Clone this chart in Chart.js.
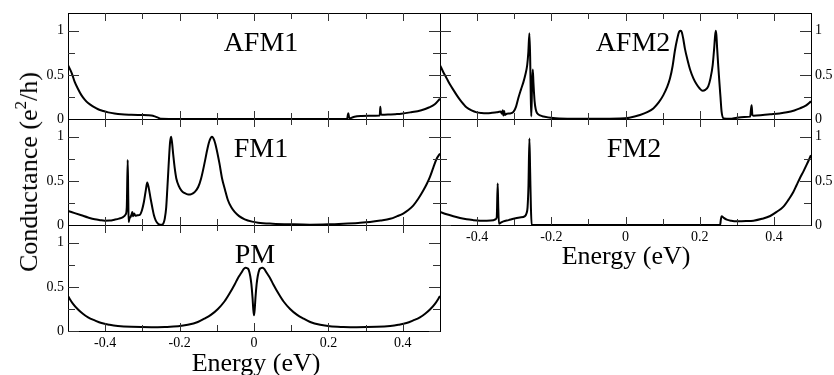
<!DOCTYPE html>
<html>
<head>
<meta charset="utf-8">
<script src="https://cdn.jsdelivr.net/npm/chart.js@4.4.1/dist/chart.umd.min.js"></script>
<style>
  body { margin: 0; background: #fff; }
  #wrap { position: relative; width: 834px; height: 375px; overflow: hidden; font-family: "Liberation Serif", "DejaVu Serif", serif; }
  #wrap canvas { position: absolute; left: 0; top: 0; }
  .lbl { position: absolute; transform: translate(-50%, -50%); line-height: 1; white-space: nowrap; color: #000; }
  .panel { font-size: 28px; }
  .axis { font-size: 26px; }
  .ytitle { transform: translate(-50%, -50%) rotate(-90deg); }
  .ytitle sup { font-size: 17px; vertical-align: 0; position: relative; top: -11px; }
</style>
</head>
<body>
<div id="wrap">
  <canvas id="c1" width="834" height="375"></canvas>
  <canvas id="c2" width="834" height="375"></canvas>
  <canvas id="c3" width="834" height="375"></canvas>
  <canvas id="c4" width="834" height="375"></canvas>
  <canvas id="c5" width="834" height="375"></canvas>
  <div class="lbl panel" style="left:261px;top:42px">AFM1</div>
  <div class="lbl panel" style="left:633px;top:42px">AFM2</div>
  <div class="lbl panel" style="left:261px;top:148px">FM1</div>
  <div class="lbl panel" style="left:634px;top:148px">FM2</div>
  <div class="lbl panel" style="left:255px;top:254px">PM</div>
  <div class="lbl axis" style="left:256px;top:363px">Energy (eV)</div>
  <div class="lbl axis" style="left:626px;top:256px">Energy (eV)</div>
  <div class="lbl axis ytitle" style="left:29px;top:172px">Conductance (e<sup>2</sup>/h)</div>
</div>
<script>
'use strict'
// tick values
const xMajor = [-0.4, -0.2, 0, 0.2, 0.4]
const xMinor = [-0.3, -0.1, 0.1, 0.3]
const xLabels = ['-0.4', '-0.2', '0', '0.2', '0.4']
const yMajor = [0, 0.5, 1]
const yMinor = [0.25, 0.75]
const yLabels = ['0', '0.5', '1']

// AFM1
const afm1E = [-0.5, -0.49, -0.482, -0.473, -0.464, -0.455, -0.446, -0.432, -0.419, -0.405, -0.392, -0.375, -0.357, -0.33, -0.303, -0.285, -0.276, -0.267, -0.258, -0.249, -0.2, -0.1, 0, 0.1, 0.2, 0.25, 0.2535, 0.2555, 0.2575, 0.26, 0.27, 0.289, 0.31, 0.338, 0.3396, 0.341, 0.343, 0.36, 0.38, 0.396, 0.42, 0.45, 0.47, 0.486, 0.5]
const afm1G = [0.61, 0.52, 0.42, 0.34, 0.27, 0.22, 0.18, 0.14, 0.11, 0.09, 0.075, 0.062, 0.053, 0.048, 0.045, 0.043, 0.04, 0.03, 0.015, 0.002, 0, 0, 0, 0, 0, 0, 0.065, 0.02, 0.005, 0.01, 0.025, 0.035, 0.038, 0.04, 0.14, 0.06, 0.048, 0.05, 0.055, 0.06, 0.075, 0.1, 0.13, 0.166, 0.23]

// AFM2
const afm2E = [-0.5, -0.491, -0.482, -0.473, -0.464, -0.455, -0.446, -0.437, -0.428, -0.415, -0.401, -0.388, -0.374, -0.36, -0.347, -0.337, -0.333, -0.331, -0.329, -0.327, -0.325, -0.32, -0.311, -0.302, -0.295, -0.289, -0.282, -0.275, -0.27, -0.265, -0.262, -0.259, -0.257, -0.2555, -0.254, -0.252, -0.25, -0.248, -0.245, -0.242, -0.238, -0.23, -0.221, -0.195, -0.15, -0.1, -0.05, -0.015, 0.01, 0.039, 0.06, 0.075, 0.09, 0.102, 0.112, 0.12, 0.127, 0.133, 0.139, 0.145, 0.149, 0.152, 0.156, 0.16, 0.167, 0.174, 0.183, 0.192, 0.2, 0.208, 0.215, 0.223, 0.229, 0.235, 0.239, 0.243, 0.245, 0.247, 0.25, 0.253, 0.256, 0.259, 0.265, 0.282, 0.3, 0.32, 0.336, 0.338, 0.34, 0.342, 0.345, 0.37, 0.39, 0.415, 0.435, 0.455, 0.47, 0.487, 0.5]
const afm2G = [0.61, 0.53, 0.46, 0.39, 0.33, 0.27, 0.216, 0.17, 0.13, 0.097, 0.075, 0.068, 0.066, 0.07, 0.076, 0.085, 0.06, 0.1, 0.04, 0.09, 0.045, 0.06, 0.062, 0.08, 0.14, 0.235, 0.33, 0.42, 0.5, 0.61, 0.75, 0.97, 0.7, 0.3, 0.03, 0.35, 0.56, 0.4, 0.2, 0.11, 0.064, 0.04, 0.028, 0.01, 0.003, 0.002, 0.003, 0.005, 0.015, 0.045, 0.08, 0.12, 0.19, 0.27, 0.36, 0.46, 0.6, 0.77, 0.9, 0.99, 1.0, 0.98, 0.9, 0.8, 0.67, 0.56, 0.46, 0.39, 0.345, 0.32, 0.33, 0.37, 0.46, 0.61, 0.8, 1.0, 0.95, 0.8, 0.6, 0.42, 0.25, 0.083, 0.005, 0.002, 0.015, 0.022, 0.027, 0.1, 0.157, 0.045, 0.038, 0.045, 0.053, 0.063, 0.076, 0.097, 0.12, 0.155, 0.2]

// FM1
const fm1E = [-0.5, -0.482, -0.464, -0.446, -0.428, -0.414, -0.401, -0.388, -0.375, -0.363, -0.352, -0.345, -0.342, -0.3395, -0.338, -0.337, -0.335, -0.332, -0.329, -0.327, -0.325, -0.322, -0.319, -0.313, -0.307, -0.301, -0.296, -0.291, -0.287, -0.283, -0.278, -0.273, -0.269, -0.264, -0.258, -0.252, -0.247, -0.243, -0.24, -0.236, -0.233, -0.2305, -0.228, -0.2255, -0.223, -0.2205, -0.217, -0.213, -0.209, -0.202, -0.195, -0.186, -0.177, -0.168, -0.159, -0.15, -0.142, -0.133, -0.125, -0.119, -0.113, -0.107, -0.101, -0.093, -0.086, -0.078, -0.07, -0.061, -0.052, -0.04, -0.025, -0.005, 0.011, 0.05, 0.1, 0.15, 0.2, 0.24, 0.28, 0.312, 0.34, 0.366, 0.385, 0.401, 0.415, 0.428, 0.442, 0.455, 0.465, 0.473, 0.482, 0.491, 0.5]
const fm1G = [0.16, 0.135, 0.11, 0.085, 0.064, 0.055, 0.049, 0.05, 0.06, 0.072, 0.09, 0.12, 0.2, 0.735, 0.3, 0.034, 0.07, 0.09, 0.12, 0.148, 0.1, 0.13, 0.105, 0.11, 0.115, 0.17, 0.26, 0.39, 0.48, 0.42, 0.3, 0.19, 0.11, 0.05, 0.015, 0.003, 0.004, 0.025, 0.07, 0.2, 0.41, 0.6, 0.79, 0.94, 1.0, 0.94, 0.79, 0.64, 0.53, 0.44, 0.39, 0.36, 0.345, 0.35, 0.375, 0.43, 0.53, 0.7, 0.867, 0.96, 1.0, 0.96, 0.867, 0.7, 0.53, 0.4, 0.28, 0.2, 0.148, 0.1, 0.064, 0.038, 0.026, 0.015, 0.008, 0.004, 0.008, 0.015, 0.024, 0.034, 0.05, 0.07, 0.1, 0.13, 0.17, 0.22, 0.3, 0.39, 0.47, 0.545, 0.65, 0.75, 0.81]

// FM2
const fm2E = [-0.5, -0.482, -0.464, -0.446, -0.428, -0.41, -0.392, -0.374, -0.356, -0.35, -0.347, -0.3445, -0.343, -0.341, -0.335, -0.329, -0.315, -0.302, -0.285, -0.271, -0.267, -0.264, -0.2615, -0.259, -0.257, -0.255, -0.253, -0.2, -0.1, 0, 0.1, 0.2, 0.255, 0.257, 0.259, 0.265, 0.273, 0.285, 0.3, 0.325, 0.345, 0.368, 0.39, 0.408, 0.425, 0.44, 0.452, 0.461, 0.47, 0.48, 0.488, 0.5]
const fm2G = [0.148, 0.122, 0.1, 0.08, 0.064, 0.055, 0.049, 0.048, 0.053, 0.065, 0.09, 0.47, 0.2, 0.015, 0.03, 0.041, 0.055, 0.07, 0.085, 0.1, 0.13, 0.2, 0.45, 0.98, 0.6, 0.2, 0.002, 0, 0, 0, 0, 0, 0, 0.06, 0.1, 0.08, 0.06, 0.048, 0.042, 0.044, 0.049, 0.07, 0.102, 0.15, 0.205, 0.29, 0.37, 0.45, 0.53, 0.61, 0.68, 0.79]

// PM
const pmE = [-0.5, -0.487, -0.473, -0.46, -0.446, -0.428, -0.41, -0.388, -0.366, -0.33, -0.276, -0.24, -0.204, -0.178, -0.151, -0.133, -0.115, -0.097, -0.079, -0.065, -0.052, -0.043, -0.034, -0.028, -0.023, -0.018, -0.014, -0.01, -0.007, -0.004, -0.002, 0, 0.002, 0.004, 0.007, 0.01, 0.014, 0.018, 0.023, 0.028, 0.034, 0.043, 0.052, 0.065, 0.079, 0.097, 0.115, 0.133, 0.151, 0.178, 0.204, 0.24, 0.276, 0.33, 0.366, 0.388, 0.41, 0.428, 0.446, 0.46, 0.473, 0.487, 0.5]
const pmG = [0.395, 0.31, 0.243, 0.195, 0.155, 0.12, 0.09, 0.07, 0.057, 0.047, 0.042, 0.045, 0.053, 0.07, 0.102, 0.14, 0.186, 0.25, 0.337, 0.43, 0.527, 0.6, 0.659, 0.7, 0.716, 0.71, 0.69, 0.62, 0.527, 0.38, 0.25, 0.178, 0.25, 0.38, 0.527, 0.62, 0.69, 0.71, 0.716, 0.7, 0.659, 0.6, 0.527, 0.43, 0.337, 0.25, 0.186, 0.14, 0.102, 0.07, 0.053, 0.045, 0.042, 0.047, 0.057, 0.07, 0.09, 0.12, 0.155, 0.195, 0.243, 0.31, 0.395]

const framePlugin = {
  id: 'frame',
  afterDatasetsDraw(chart, args, opts) {
    const ctx = chart.ctx
    const a = chart.chartArea
    const x = chart.scales.x
    const y = chart.scales.y
    ctx.save()
    ctx.strokeStyle = '#000'
    ctx.lineWidth = 1
    ctx.strokeRect(Math.round(a.left) + 0.5, Math.round(a.top) + 0.5, Math.round(a.right - a.left), Math.round(a.bottom - a.top))
    ctx.strokeStyle = '#333'
    ctx.beginPath()
    const xt = (v, len) => {
      const px = Math.round(x.getPixelForValue(v)) + 0.5
      ctx.moveTo(px, a.top); ctx.lineTo(px, a.top + len)
      ctx.moveTo(px, a.bottom); ctx.lineTo(px, a.bottom - len)
    }
    const yt = (v, len) => {
      const py = Math.round(y.getPixelForValue(v)) + 0.5
      ctx.moveTo(a.left, py); ctx.lineTo(a.left + len, py)
      ctx.moveTo(a.right, py); ctx.lineTo(a.right - len, py)
    }
    xMajor.forEach(v => xt(v, 8))
    xMinor.forEach(v => xt(v, 6))
    yMajor.forEach(v => yt(v, 11))
    yMinor.forEach(v => yt(v, 7))
    ctx.stroke()

    ctx.fillStyle = '#000'
    ctx.font = '14px "Liberation Serif", serif'
    ctx.textBaseline = 'middle'
    if (opts.yLab === 'left') {
      ctx.textAlign = 'right'
      yMajor.forEach((v, i) => ctx.fillText(yLabels[i], a.left - 4, y.getPixelForValue(v)))
    } else {
      ctx.textAlign = 'left'
      yMajor.forEach((v, i) => ctx.fillText(yLabels[i], a.right + 4, y.getPixelForValue(v)))
    }
    if (opts.xLab) {
      ctx.textAlign = 'center'
      xMajor.forEach((v, i) => ctx.fillText(xLabels[i], x.getPixelForValue(v), a.bottom + 12))
    }
    ctx.restore()
  }
}

function makePanel(id, energy, cond, pad, yLab, xLab) {
  const pts = energy.map((e, i) => ({ x: e, y: cond[i] }))
  return new Chart(document.getElementById(id), {
    type: 'line',
    data: {
      datasets: [{
        data: pts,
        borderColor: '#000',
        borderWidth: 2,
        pointRadius: 0,
        cubicInterpolationMode: 'monotone',
        fill: false
      }]
    },
    options: {
      responsive: false,
      animation: false,
      devicePixelRatio: 1,
      layout: { padding: pad },
      scales: {
        x: { type: 'linear', min: -0.5, max: 0.5, display: false },
        y: { type: 'linear', min: 0, max: 1.2, display: false }
      },
      plugins: {
        legend: { display: false },
        tooltip: { enabled: false },
        frame: { yLab: yLab, xLab: xLab }
      }
    },
    plugins: [framePlugin]
  })
}

makePanel('c1', afm1E, afm1G, { left: 68, right: 394, top: 13, bottom: 256 }, 'left', false)
makePanel('c2', afm2E, afm2G, { left: 440, right: 23, top: 13, bottom: 256 }, 'right', false)
makePanel('c3', fm1E, fm1G, { left: 68, right: 394, top: 119, bottom: 150 }, 'left', false)
makePanel('c4', fm2E, fm2G, { left: 440, right: 23, top: 119, bottom: 150 }, 'right', true)
makePanel('c5', pmE, pmG, { left: 68, right: 394, top: 225, bottom: 44 }, 'left', true)
</script>
</body>
</html>
